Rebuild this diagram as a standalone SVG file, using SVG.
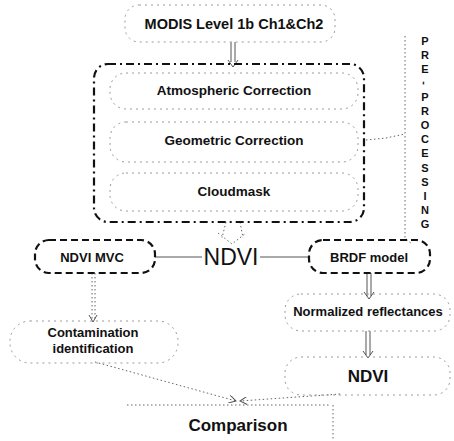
<svg xmlns="http://www.w3.org/2000/svg" width="454" height="441" viewBox="0 0 454 441">
<style>
text{font-family:"Liberation Sans",Arial,sans-serif;fill:#111;text-anchor:middle;font-weight:bold}
.soft{fill:none;stroke:#9a9a9a;stroke-width:1;stroke-dasharray:2 4}
.thick{fill:none;stroke:#111;stroke-width:2.2;stroke-dasharray:7 4}
.dashdot{fill:none;stroke:#111;stroke-width:2.2;stroke-dasharray:8 4 2 4}
.line{fill:none;stroke:#555;stroke-width:1}
.dot{fill:none;stroke:#666;stroke-width:1;stroke-dasharray:1.5 2.5}
</style>
<defs>
<marker id="ah" markerWidth="8" markerHeight="8" refX="7" refY="4" orient="auto" markerUnits="userSpaceOnUse">
<path d="M0,0 L7,4 L0,8" fill="none" stroke="#555" stroke-width="1"/>
</marker>
</defs>
<rect width="454" height="441" fill="#fff"/>

<g id="connectors">
<!-- MODIS to preprocessing block -->
<path class="line" d="M231,42 V62 M235,42 V62 M228,60 L233,67 L238,60"/>
<!-- preprocessing block to NDVI -->
<path class="dot" d="M226,222 L222,238 M240,222 L243,238 M218,233 L232,244 L246,233"/>
<!-- side rule of the PRE-PROCESSING label -->
<path class="dot" d="M366,140 L386,138 L405,134 M405,36 V238 L412,244"/>
<!-- NDVI to the two model boxes -->
<path class="line" d="M155,257 H202 M260,257 H310"/>
<!-- NDVI MVC to contamination -->
<path class="dot" d="M92,273 V320 M95,273 V320"/>
<path class="line" d="M89,315 L93,322 L97,315"/>
<!-- BRDF to normalized reflectances -->
<path class="line" d="M367,273 V296 M371,273 V296 M364,292 L369,299 L374,292"/>
<!-- normalized reflectances to NDVI -->
<path class="line" d="M366,331 V355 M370,331 V355 M363,351 L368,358 L373,351"/>
<!-- both results to comparison -->
<path class="dot" d="M95,362 L236,401" marker-end="url(#ah)"/>
<path class="dot" d="M340,394 L240,401" marker-end="url(#ah)"/>
</g>

<g id="modis">
<rect class="soft" x="125" y="5" width="210" height="37" rx="14"/>
<text x="234" y="29" font-size="14.5">MODIS Level 1b Ch1&amp;Ch2</text>
</g>

<g id="preprocessing">
<rect class="dashdot" x="94" y="64" width="270" height="158" rx="14"/>
</g>

<g id="atmospheric">
<rect class="soft" x="110" y="73" width="248" height="36" rx="16"/>
<text x="234" y="95" font-size="13.5">Atmospheric Correction</text>
</g>

<g id="geometric">
<rect class="soft" x="110" y="122" width="248" height="40" rx="16"/>
<text x="234" y="145" font-size="13.5">Geometric Correction</text>
</g>

<g id="cloudmask">
<rect class="soft" x="110" y="173" width="248" height="38" rx="16"/>
<text x="234" y="196" font-size="13.5">Cloudmask</text>
</g>

<g id="label-preprocessing">
<text x="425" y="45" font-size="11">P</text>
<text x="425" y="59" font-size="11">R</text>
<text x="425" y="73" font-size="11">E</text>
<text x="425" y="87" font-size="11" transform="rotate(90 425 83)">-</text>
<text x="425" y="101" font-size="11">P</text>
<text x="425" y="115" font-size="11">R</text>
<text x="425" y="129" font-size="11">O</text>
<text x="425" y="143" font-size="11">C</text>
<text x="425" y="157" font-size="11">E</text>
<text x="425" y="172" font-size="11">S</text>
<text x="425" y="186" font-size="11">S</text>
<text x="425" y="200" font-size="11">I</text>
<text x="425" y="214" font-size="11">N</text>
<text x="425" y="228" font-size="11">G</text>
</g>

<g id="ndvi-mvc">
<rect class="thick" x="35" y="240" width="120" height="33" rx="14"/>
<text x="92" y="262" font-size="13">NDVI MVC</text>
</g>

<g id="ndvi">
<text x="231" y="265" font-size="23" style="font-weight:normal">NDVI</text>
</g>

<g id="brdf">
<rect class="thick" x="309" y="240" width="121" height="33" rx="14"/>
<text x="369" y="262" font-size="13">BRDF model</text>
</g>

<g id="contamination">
<rect class="soft" x="10" y="321" width="168" height="42" rx="20"/>
<text x="93" y="337" font-size="13">Contamination</text>
<text x="93" y="353" font-size="13">identification</text>
</g>

<g id="normalized">
<rect class="soft" x="285" y="294" width="165" height="37" rx="16"/>
<text x="368" y="316" font-size="13">Normalized reflectances</text>
</g>

<g id="ndvi-result">
<rect class="soft" x="285" y="357" width="165" height="38" rx="16"/>
<text x="368" y="382" font-size="17">NDVI</text>
</g>

<g id="comparison">
<path class="dot" d="M127,405 H330 M333,405 V441"/>
<text x="238" y="431" font-size="17">Comparison</text>
</g>
</svg>
